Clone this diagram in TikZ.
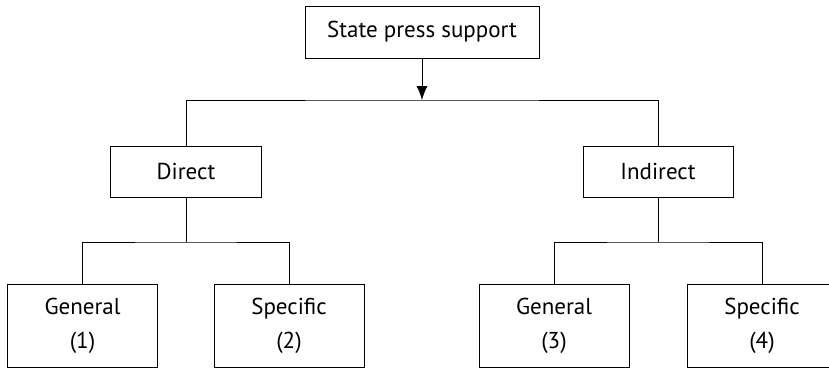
\documentclass[tikz,border=0pt]{standalone}
\usepackage{fontspec}
\setmainfont{PT Sans}
\usetikzlibrary{arrows.meta}
\begin{document}
\begin{tikzpicture}
        [x=1pt, y=-1pt, line width=0.9pt,
        box/.style={draw, rectangle, inner sep=0pt, minimum height=51pt, font=\fontsize{23}{34}\selectfont},
        leaf/.style={box, minimum width=150pt, minimum height=83pt, align=center},
        link/.style={black},
        flow/.style={black, -{Latex[length=14pt, width=11pt]}}]

        \useasboundingbox (0,0) rectangle (829,368);

        \node[box, minimum width=234pt, minimum height=52pt] (press) at (422,32) {State press support};
        \node[box, minimum width=151pt] (direct) at (186,171.5) {Direct};
        \node[box, minimum width=150pt] (indirect) at (658,171.5) {Indirect};
        \node[leaf] (gen1) at (82.5,325.5) {General\\(1)};
        \node[leaf] (spec2) at (289,325.5) {Specific\\(2)};
        \node[leaf] (gen3) at (554,325.5) {General\\(3)};
        \node[leaf] (spec4) at (762,325.5) {Specific\\(4)};

        % split points
        \coordinate (split) at (422,100);
        \coordinate (dsplit) at (186,242);
        \coordinate (isplit) at (658,242);

        % top level
        \draw[flow] (press) -- (split);
        \draw[link] (direct.north) |- (split) -| (indirect.north);

        % second level
        \draw[link] (direct) -- (dsplit);
        \draw[link] (gen1.north) |- (dsplit) -| (spec2.north);
        \draw[link] (indirect) -- (isplit);
        \draw[link] (gen3.north) |- (isplit) -| (spec4.north);

        \end{tikzpicture}
\end{document}
